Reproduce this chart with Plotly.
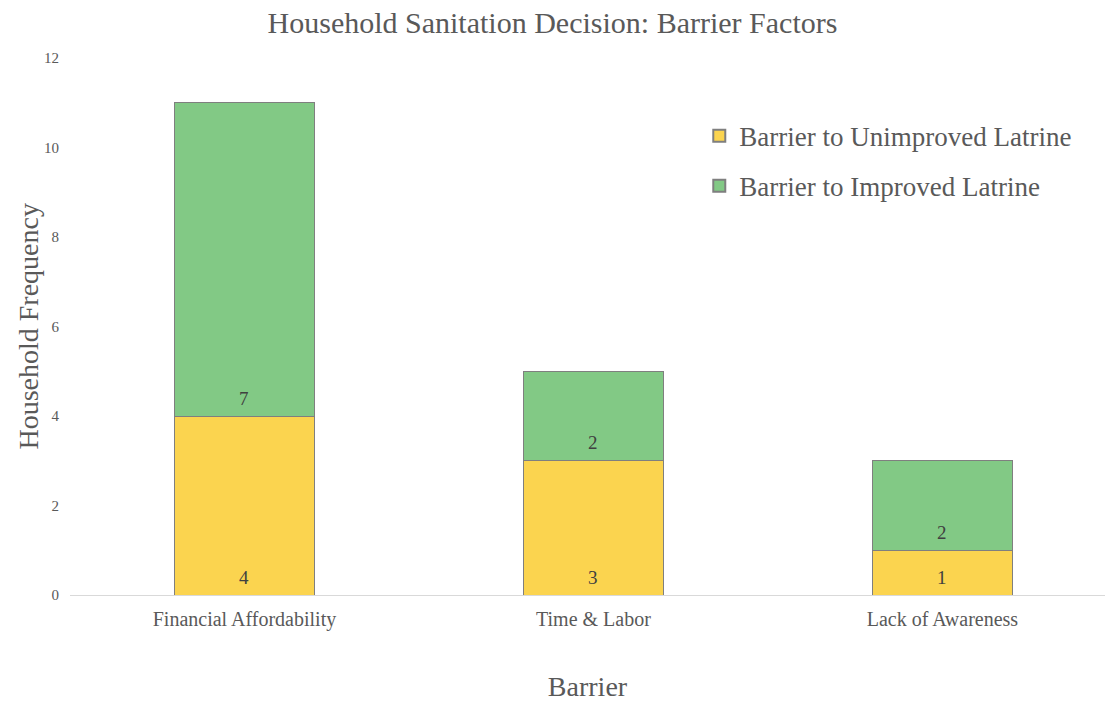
import plotly.graph_objects as go

barriers = ["Financial Affordability", "Time & Labor", "Lack of Awareness"]
unimproved = [4, 3, 1]
improved = [7, 2, 2]
y_ticks = [0, 2, 4, 6, 8, 10, 12]

FONT = "Liberation Serif"
GREY = "#595959"
EDGE = dict(color="#7f7f7f", width=1)

fig = go.Figure()
fig.add_trace(go.Bar(
    x=barriers, y=unimproved, name="Barrier to Unimproved Latrine",
    legendgroup="unimproved",
    marker=dict(color="#FBD44F", line=EDGE),
    width=0.4, hoverinfo="x+y+name",
))
fig.add_trace(go.Bar(
    x=barriers, y=improved, name="Barrier to Improved Latrine",
    legendgroup="improved",
    marker=dict(color="#82C985", line=EDGE),
    width=0.4, hoverinfo="x+y+name",
))

# value labels sit just above the base of each stacked segment
annotations = []
for cat, lo, hi in zip(barriers, unimproved, improved):
    for base, val in ((0, lo), (lo, hi)):
        annotations.append(dict(
            x=cat, y=base, xref="x", yref="y", text=str(val),
            showarrow=False, yanchor="middle", yshift=18,
            font=dict(family=FONT, size=19, color="#404040"),
        ))

# vertical axis title
annotations.append(dict(
    x=-0.0405, y=0.5, xref="paper", yref="paper",
    text="Household Frequency", textangle=-90, showarrow=False,
    xanchor="center", yanchor="middle",
    font=dict(family=FONT, size=28, color=GREY),
))

fig.update_layout(
    barmode="stack",
    width=1105, height=702,
    margin=dict(l=70, r=0, t=58, b=107),
    paper_bgcolor="white", plot_bgcolor="white",
    font=dict(family=FONT, color=GREY),
    title=dict(text="Household Sanitation Decision: Barrier Factors",
               x=0.5, xanchor="center", y=0.968, yanchor="middle",
               font=dict(family=FONT, size=30, color=GREY)),
    annotations=annotations,
    legend=dict(x=0.608, y=0.9, xanchor="left", yanchor="top",
                font=dict(family=FONT, size=27, color=GREY),
                itemsizing="constant", tracegroupgap=12,
                traceorder="grouped", bgcolor="rgba(0,0,0,0)"),
    showlegend=True,
)
fig.update_xaxes(
    range=[-0.5, 2.466],
    showline=True, linecolor="#d9d9d9", linewidth=1,
    showgrid=False, ticks="",
    tickfont=dict(family=FONT, size=20, color=GREY),
    ticklabelstandoff=6,
    title=dict(text="Barrier", font=dict(family=FONT, size=28, color=GREY), standoff=51),
)
fig.update_yaxes(
    range=[0, 12], tickvals=y_ticks,
    showline=False, showgrid=False, zeroline=False,
    tickfont=dict(family=FONT, size=15, color=GREY),
    ticklabelstandoff=10,
)

fig.write_html("out.html")
